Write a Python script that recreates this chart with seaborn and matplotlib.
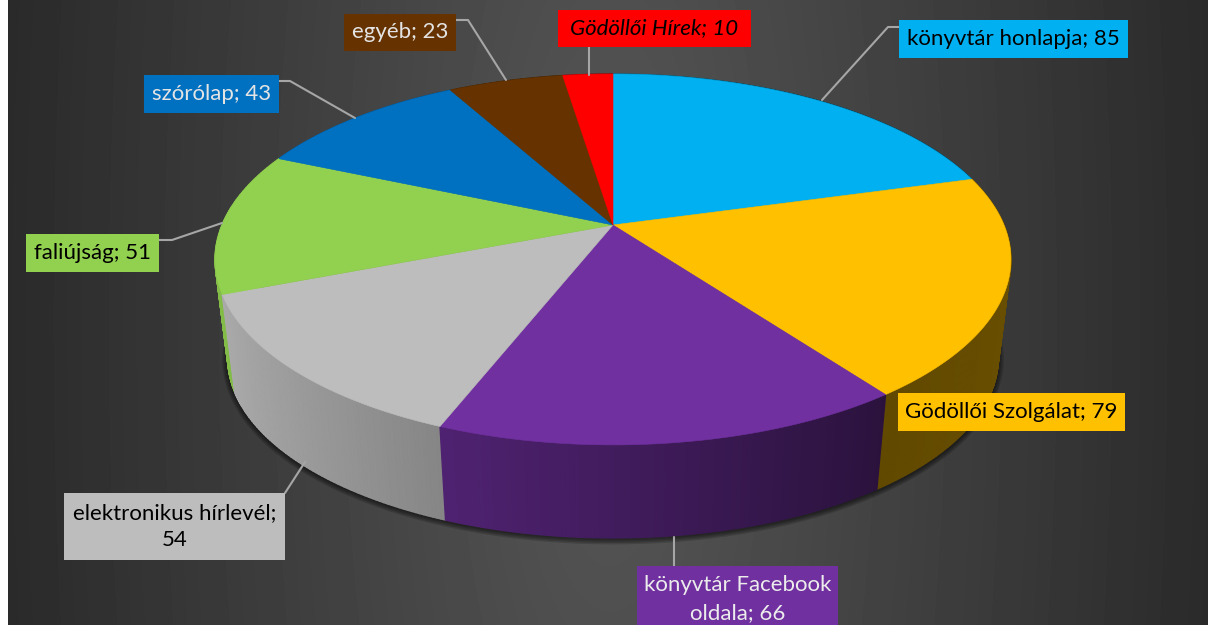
import numpy as np
import matplotlib
matplotlib.use('Agg')
import matplotlib.pyplot as plt
from matplotlib.patches import Rectangle
import seaborn as sns

# Values, clockwise from the top
labels = ['könyvtár honlapja; 85', 'Gödöllői Szolgálat; 79', 'könyvtár Facebook\noldala; 66',
          'elektronikus hírlevél;\n54', 'faliújság; 51', 'szórólap; 43', 'egyéb; 23', 'Gödöllői Hírek; 10']
values = [85, 79, 66, 54, 51, 43, 23, 10]
slice_colors = ['#00B0F0', '#FFC000', '#7030A0', '#BDBDBD', '#92D050', '#0070C0', '#663300', '#FF0000']
text_colors = ['black', 'black', '#ececec', 'black', 'black', '#e4e4e4', '#e4e4e4', 'black']
text_styles = ['normal', 'normal', 'normal', 'normal', 'normal', 'normal', 'normal', 'italic']

# Label boxes (left, top, right, bottom) in pixels
boxes = [(899, 20, 1128, 58), (898, 393, 1125, 431), (637, 566, 838, 632), (64, 493, 285, 560),
         (26, 234, 159, 272), (144, 75, 279, 113), (344, 14, 456, 51), (558, 10, 751, 47)]

# Leader lines
leaders = [([822, 888, 899], [100, 27, 27]), None, ([674, 674], [537, 566]), ([305, 285], [462, 493]),
           ([222, 172, 159], [223, 240, 240]), ([355, 290, 279], [118, 81, 81]),
           ([506, 468, 456], [80, 20, 20]), ([589, 589], [75, 47])]

sns.set_theme(style='dark')
plt.rcParams['font.family'] = ['Lato', 'DejaVu Sans']
palette = sns.color_palette(slice_colors)

W, H = 1208, 625
fig = plt.figure(figsize=(W / 100, H / 100), dpi=100, facecolor='white')
ax = fig.add_axes([0, 0, 1, 1])
ax.set_xlim(0, W)
ax.set_ylim(H, 0)
ax.axis('off')

# Dark radial background, white strip on the left
xx, yy = np.meshgrid(np.arange(8, W), np.arange(H))
r = np.sqrt((xx - 610) ** 2 + ((yy - 320) * 0.3) ** 2) / 610
shade = (0x56 - (0x56 - 0x2a) * np.clip(r, 0, 1)) / 255
ax.imshow(shade, cmap='gray', vmin=0, vmax=1, extent=(8, W, H, 0), aspect='auto', zorder=0,
          interpolation='bilinear')
ax.set_xlim(0, W)
ax.set_ylim(H, 0)


# Perspective view of the round pie
def rim(theta, cx=613, cy=225, scale=1.0):
    u, v = np.sin(theta), np.cos(theta)
    w = 1 + 0.186 * v
    return cx + scale * 391 * u / w, cy - scale * 179 * v / w


edges = np.concatenate([[0], np.cumsum(values)]) / sum(values) * 2 * np.pi
side_kw = dict(cy=325, scale=0.968)

# Soft shadow under the pie
all_t = np.linspace(0, 2 * np.pi, 400)
sx, sy = rim(all_t, **side_kw)
for lw in [8, 6, 4, 2]:
    ax.plot(sx, sy + 1, color='black', lw=lw, alpha=0.16, zorder=1, solid_capstyle='round')

# Side wall, thin strips from back to front
strips = []
for i in range(len(values)):
    n = max(2, int((edges[i + 1] - edges[i]) / np.radians(0.6)))
    t = np.linspace(edges[i], edges[i + 1], n + 1)
    for a, b in zip(t[:-1], t[1:]):
        strips.append((np.cos((a + b) / 2), a, b, i))
strips.sort(key=lambda s: -s[0])
for _, a, b, i in strips:
    t = np.linspace(a, b, 3)
    x1, y1 = rim(t)
    x2, y2 = rim(t, **side_kw)
    f = np.interp(np.sin((a + b) / 2), [-1, -0.37, 0.6, 1], [0.92, 0.71, 0.38, 0.41])
    c = tuple(np.array(palette[i]) * f)
    ax.fill(np.r_[x1, x2[::-1]], np.r_[y1, y2[::-1]], color=c, lw=1.0, zorder=2)

# Top face
for i in range(len(values)):
    t = np.linspace(edges[i], edges[i + 1], 200)
    x, y = rim(t)
    cx, cy = rim(np.array([0.0]), scale=0)
    ax.fill(np.r_[cx, x], np.r_[cy, y], color=palette[i], lw=0.4, zorder=3)

# Leader lines and data labels
for line in leaders:
    if line is not None:
        ax.plot(line[0], line[1], color='#a6a6a6', lw=1.5, zorder=4)

for i, label in enumerate(labels):
    x0, y0, x1, y1 = boxes[i]
    ax.add_patch(Rectangle((x0, y0), x1 - x0, y1 - y0, facecolor=palette[i], edgecolor='none', zorder=5))
    ax.text((x0 + x1) / 2, (y0 + y1) / 2, label, color=text_colors[i], style=text_styles[i],
            fontsize=16, ha='center', va='center', linespacing=1.45, zorder=6)

fig.savefig('out.png', dpi=100)
